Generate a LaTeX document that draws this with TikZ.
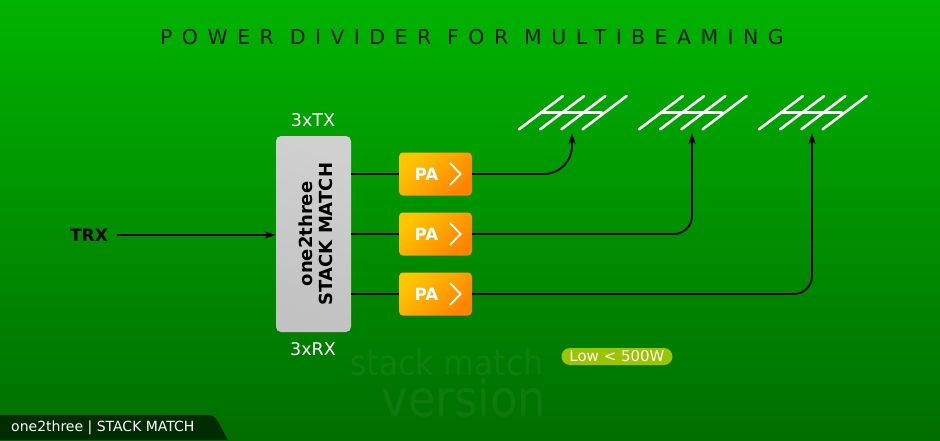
\documentclass[tikz,border=0pt]{standalone}
\usepackage{fontspec}
\setmainfont{DejaVu Sans}
\newfontfamily\titlefont[LetterSpace=46]{DejaVu Sans}
\newfontfamily\narrowfont[FakeStretch=0.9]{DejaVu Sans}
\usetikzlibrary{arrows.meta,calc}
\definecolor{bgtop}{HTML}{00B300}
\definecolor{bgbot}{HTML}{006E00}
\definecolor{titlecol}{HTML}{1B1B1B}
\definecolor{footcol}{HTML}{012C01}
\definecolor{pillcol}{HTML}{9CC400}
\definecolor{paA}{HTML}{FFC600}
\definecolor{paB}{HTML}{FF8400}
\definecolor{boxA}{HTML}{D0D0D0}
\definecolor{boxM}{HTML}{ABABAB}
\definecolor{boxB}{HTML}{C2C2C2}
\tikzset{
  conn/.style={draw=black, line width=1.8pt},
  arr/.style={conn, -{Stealth[length=11pt,width=7pt,inset=3pt]}},
  stackbox/.style={rectangle, rounded corners=5pt, minimum width=75pt, minimum height=196pt,
    inner sep=0pt, top color=boxA, middle color=boxM, bottom color=boxB, shading angle=-20, draw=none},
  pabox/.style={rectangle, rounded corners=4pt, minimum width=73pt, minimum height=43pt,
    inner sep=0pt, top color=paA, bottom color=paB, shading angle=45, draw=none},
  patext/.style={text=white, font=\bfseries\fontsize{16.8}{18}\selectfont, inner sep=0pt},
  chev/.style={draw=white, line width=1.8pt},
  whitelabel/.style={text=white, font=\fontsize{17.5}{20}\selectfont, inner sep=0pt},
  antenna/.style={draw=white, line width=2.6pt, line cap=round},
  water/.style={text=white, opacity=0.05, inner sep=0pt, anchor=base},
}
\begin{document}
\begin{tikzpicture}[x=1pt,y=-1pt]
\shade[top color=bgtop, bottom color=bgbot] (0,0) rectangle (940,440);
\useasboundingbox (0,0) rectangle (940,440);

% title
\node[text=titlecol, inner sep=0pt] (title) at (472,37) {\titlefont\fontsize{20.5}{24}\selectfont POWER DIVIDER FOR MULTIBEAMING};

% watermark
\node[water, font=\narrowfont\fontsize{35}{40}\selectfont] (wm1) at (447,375.7) {stack match};
\node[water, font=\narrowfont\fontsize{50}{56}\selectfont] (wm2) at (464,416) {version};

% stack match box
\node[stackbox] (box) at (313.5,234) {};
\node[rotate=90, align=center, inner sep=0pt, font=\bfseries\fontsize{18}{20}\selectfont, text=black] (boxt) at (315.5,234) {one2three\\STACK MATCH};
\node[whitelabel] (tx) at (313,120) {3xTX};
\node[whitelabel] (rx) at (313,349) {3xRX};

% TRX
\node[inner sep=0pt, font=\bfseries\fontsize{17}{19}\selectfont, text=black] (trx) at (89,235) {TRX};
\draw[arr] (trx.east) ++(9,0) -- (trx.east -| box.west);

% PA boxes
\foreach \i/\y in {1/174,2/234,3/294}{
  \node[pabox] (pa\i) at (435.5,\y) {};
  \node[patext] (pa\i t) at ($(pa\i.center)+(-9,0)$) {PA};
  \draw[chev] ($(pa\i.center)+(14.5,-11)$) -- ++(10.5,11) -- ++(-10.5,11);
  \draw[conn] (box.east |- pa\i.west) -- (pa\i.west);
}

% antennas
\foreach \j/\dx in {1/0,2/120,3/240}{
  \foreach \k in {0,1,2,3}{
    \draw[antenna] (519+\dx+21.2*\k,129.3) -- (563+\dx+21.2*\k,96);
  }
  \draw[antenna] (541+\dx,112.7) -- (602+\dx,112.7);
}
\coordinate (ant1) at (572,133);
\coordinate (ant2) at (692,133);
\coordinate (ant3) at (812,133);

\draw[arr, rounded corners=28pt] (pa1.east) -| (ant1);
\draw[arr, rounded corners=18pt] (pa2.east) -| (ant2);
\draw[arr, rounded corners=18pt] (pa3.east) -| (ant3);

% pill
\node[rectangle, rounded corners=8.5pt, fill=pillcol, minimum width=111pt, minimum height=17pt, inner sep=0pt,
  text=white, font=\fontsize{15}{16}\selectfont] (pill) at (617,356.5) {Low < 500W};

% footer
\fill[footcol] (0,415) -- (207,415) .. controls (215,415) and (217,419) .. (220,425) -- (228,440) -- (0,440) -- cycle;
\node[anchor=west, text=white, inner sep=0pt, font=\fontsize{14}{16}\selectfont] (foot) at (11,427.5) {one2three | STACK MATCH};
\end{tikzpicture}
\end{document}
